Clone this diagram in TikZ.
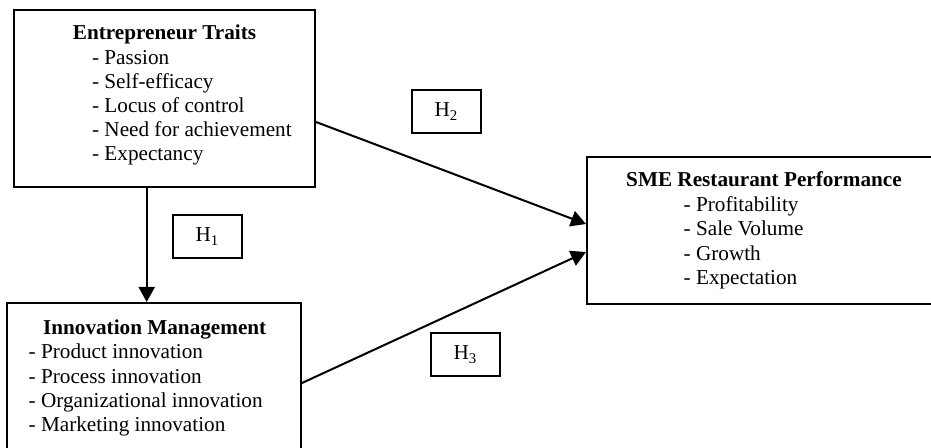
\documentclass[tikz,border=0pt]{standalone}
\usepackage{fontspec}
\setmainfont{Liberation Serif}
\usetikzlibrary{arrows.meta}

\begin{document}
\begin{tikzpicture}[x=0.5pt, y=-0.5pt,
    box/.style={rectangle, draw, line width=1pt, inner sep=0pt},
    hyp/.style={rectangle, draw, line width=1pt, minimum width=34.5pt, minimum height=21.5pt, inner sep=0pt, font=\fontsize{10.6}{12}\selectfont},
    title/.style={anchor=base, inner sep=0pt, font=\fontsize{10.6}{12}\selectfont\bfseries},
    item/.style={anchor=base west, inner sep=0pt, font=\fontsize{10.6}{12}\selectfont},
    arr/.style={-{Triangle[length=7.5pt, width=8pt]}, line width=1pt}
]
    \useasboundingbox (0,0) rectangle (931,448);
    \clip (0,0) rectangle (931,448);

    % Boxes
    \node[box, minimum width=150.5pt, minimum height=88.5pt] (et) at (164.5,98.5) {};
    \node[box, minimum width=147pt, minimum height=74.5pt] (im) at (154,377.5) {};
    \node[box, minimum width=176.5pt, minimum height=73.5pt] (sme) at (763.5,230.5) {};

    % Entrepreneur traits
    \node[title] (et-t) at (164.5,39.3) {Entrepreneur Traits};
    \foreach \t [count=\i] in {Passion, Self-efficacy, Locus of control, Need for achievement, Expectancy}
        \node[item] (et-\i) at (91.7, 40+24.2*\i) {- \t};

    % Innovation management
    \node[title] (im-t) at (154.7,335) {Innovation Management};
    \foreach \t [count=\i] in {Product innovation, Process innovation, Organizational innovation, Marketing innovation}
        \node[item] (im-\i) at (28.3, 334.8+24.2*\i) {- \t};

    % Performance
    \node[title] (sme-t) at (764,186.7) {SME Restaurant Performance};
    \foreach \t [count=\i] in {Profitability, Sale Volume, Growth, Expectation}
        \node[item] (sme-\i) at (683.3, 187.5+24.2*\i) {- \t};

    % Hypotheses
    \node[hyp] (h1) at (207.5,236.5) {H\textsubscript{1}};
    \node[hyp] (h2) at (446.5,111.5) {H\textsubscript{2}};
    \node[hyp] (h3) at (465.5,354.5) {H\textsubscript{3}};

    % Paths
    \draw[arr] ([xshift=-8.9pt]et.south) -- ([xshift=-8.9pt]et.south |- im.north);
    \draw[arr] ([yshift=-11.75pt]et.east) -- ([yshift=3.25pt]sme.west);
    \draw[arr] ([yshift=-2.75pt]im.east) -- ([yshift=-10.75pt]sme.west);
\end{tikzpicture}
\end{document}
